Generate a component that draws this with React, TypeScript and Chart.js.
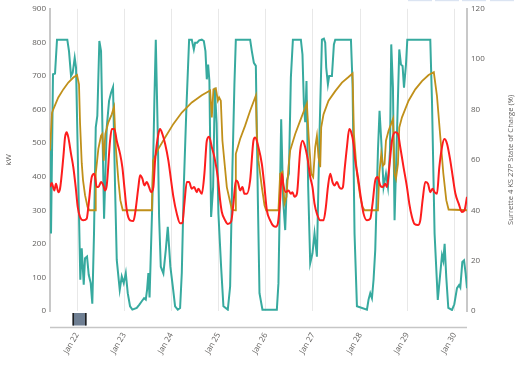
import React, { useEffect, useRef } from "react";
import { Chart, registerables } from "chart.js";

Chart.register(...registerables);

// ---- axis ticks ----
const dayTicks = [22, 23, 24, 25, 26, 27, 28, 29, 30];
const dayLabels = ["Jan 22", "Jan 23", "Jan 24", "Jan 25", "Jan 26", "Jan 27", "Jan 28", "Jan 29", "Jan 30"];
const xMin = 21.4275;
const xMax = 30.263;

// ---- teal series (kW), x = day of January ----
const tealDays = [
  21.428, 21.449, 21.491, 21.534, 21.576, 21.794, 21.83, 21.873, 21.909, 21.951, 21.979,
  22.07, 22.1, 22.142, 22.17, 22.212, 22.248, 22.29, 22.324, 22.36, 22.397, 22.43, 22.473, 22.509,
  22.573, 22.63, 22.679, 22.721, 22.763, 22.806, 22.842, 22.905, 22.948, 22.99, 23.033, 23.075,
  23.124, 23.173, 23.266, 23.321, 23.372, 23.421, 23.457, 23.484, 23.512, 23.537, 23.597, 23.639,
  23.669, 23.711, 23.739, 23.775, 23.83, 23.881, 23.923, 23.978, 24.029, 24.078, 24.135, 24.184,
  24.22, 24.262, 24.318, 24.375, 24.432, 24.475, 24.502, 24.545, 24.587, 24.644, 24.687, 24.721,
  24.75, 24.778, 24.805, 24.841, 24.884, 24.92, 24.958, 24.996, 25.053, 25.102, 25.195, 25.244,
  25.293, 25.335, 25.365, 25.668, 25.704, 25.747, 25.789, 25.832, 25.866, 25.929, 26.234, 26.268,
  26.326, 26.368, 26.411, 26.447, 26.489, 26.531, 26.574, 26.743, 26.777, 26.807, 26.835, 26.862,
  26.898, 26.941, 26.989, 27.032, 27.083, 27.138, 27.189, 27.231, 27.259, 27.28, 27.316, 27.343,
  27.401, 27.443, 27.471, 27.804, 27.838, 27.88, 27.931, 28.143, 28.177, 28.213, 28.249, 28.283,
  28.319, 28.376, 28.41, 28.446, 28.495, 28.546, 28.588, 28.631, 28.658, 28.694, 28.728, 28.779,
  28.828, 28.864, 28.898, 28.928, 28.97, 28.998, 29.485, 29.521, 29.576, 29.644, 29.733, 29.761,
  29.789, 29.824, 29.867, 29.945, 29.994, 30.051, 30.094, 30.121, 30.164, 30.2, 30.234, 30.263,
];
const tealKw = [
  483, 231, 705, 707, 808, 808, 774, 700, 710, 754, 725,
  93, 187, 78, 157, 162, 108, 83, 22, 231, 547, 581, 804, 774,
  275, 547, 626, 650, 667, 369, 152, 63, 103, 83, 113, 53,
  14, 4, 9, 19, 29, 38, 34, 63, 113, 40, 330, 626,
  808, 527, 280, 132, 112, 182, 251, 132, 73, 14, 4, 9,
  113, 369, 606, 808, 808, 779, 799, 799, 806, 808, 804, 774,
  690, 734, 685, 280, 369, 665, 560, 290, 132, 14, 4, 73,
  428, 675, 808, 808, 774, 739, 730, 330, 53, 4, 4, 83,
  571, 330, 241, 389, 409, 695, 808, 808, 764, 616, 562, 685,
  369, 142, 172, 231, 162, 527, 808, 811, 799, 725, 675, 700,
  700, 794, 808, 808, 675, 231, 14, 4, 34, 53, 38, 93,
  182, 478, 596, 507, 369, 409, 369, 478, 794, 665, 270, 527,
  779, 734, 730, 665, 734, 808, 808, 626, 231, 33, 166, 150,
  200, 100, 9, 3, 20, 68, 77, 70, 146, 151, 112, 68,
];

// ---- red series (kW) ----
const redDays = [
  21.428, 21.464, 21.519, 21.555, 21.603, 21.64, 21.71, 21.746, 21.782, 21.816, 21.873, 21.922,
  21.972, 22.015, 22.064, 22.134, 22.206, 22.24, 22.312, 22.367, 22.418, 22.452, 22.509, 22.558,
  22.594, 22.63, 22.7, 22.736, 22.791, 22.842, 22.912, 22.961, 23.003, 23.054, 23.124, 23.194,
  23.23, 23.3, 23.336, 23.385, 23.427, 23.478, 23.527, 23.569, 23.618, 23.654, 23.724, 23.76,
  23.809, 23.866, 23.936, 23.993, 24.042, 24.114, 24.184, 24.233, 24.275, 24.326, 24.375, 24.432,
  24.481, 24.538, 24.572, 24.644, 24.699, 24.75, 24.799, 24.856, 24.911, 24.983, 25.032, 25.068,
  25.138, 25.195, 25.265, 25.314, 25.365, 25.408, 25.456, 25.505, 25.547, 25.598, 25.668, 25.738,
  25.774, 25.844, 25.916, 25.972, 26.022, 26.092, 26.162, 26.213, 26.256, 26.304, 26.34, 26.374,
  26.425, 26.48, 26.531, 26.565, 26.608, 26.659, 26.729, 26.777, 26.835, 26.892, 26.941, 26.989,
  27.032, 27.083, 27.153, 27.223, 27.273, 27.316, 27.365, 27.413, 27.456, 27.507, 27.556, 27.598,
  27.634, 27.668, 27.719, 27.768, 27.81, 27.859, 27.895, 27.952, 28.022, 28.071, 28.143, 28.213,
  28.262, 28.319, 28.368, 28.425, 28.474, 28.531, 28.567, 28.616, 28.673, 28.743, 28.8, 28.849,
  28.919, 28.991, 29.04, 29.097, 29.152, 29.224, 29.273, 29.322, 29.379, 29.436, 29.485, 29.534,
  29.576, 29.627, 29.676, 29.733, 29.782, 29.84, 29.909, 29.962, 30.018, 30.087, 30.153, 30.21,
  30.263,
];
const redKw = [
  369, 381, 359, 379, 354, 364, 458, 517, 532, 517, 468, 428,
  369, 310, 280, 270, 275, 310, 399, 409, 369, 369, 384, 374,
  359, 374, 507, 542, 542, 507, 468, 428, 369, 300, 270, 268,
  290, 369, 404, 394, 374, 384, 369, 354, 369, 448, 527, 542,
  527, 498, 448, 389, 340, 290, 261, 263, 320, 384, 384, 364,
  369, 354, 364, 349, 409, 507, 519, 488, 458, 399, 330, 295,
  270, 259, 266, 320, 389, 384, 359, 369, 349, 349, 389, 507,
  517, 488, 438, 369, 300, 270, 253, 251, 261, 330, 409, 374,
  354, 359, 349, 354, 340, 349, 478, 507, 488, 448, 399, 369,
  320, 290, 270, 270, 310, 369, 409, 384, 374, 384, 369, 364,
  369, 419, 488, 542, 532, 498, 448, 399, 330, 290, 270, 275,
  320, 389, 399, 374, 369, 379, 369, 428, 507, 532, 527, 488,
  428, 369, 320, 280, 259, 256, 270, 330, 384, 379, 354, 364,
  354, 349, 428, 488, 512, 498, 448, 399, 349, 320, 295, 300,
  340,
];

// ---- gold series: State of Charge (%) ----
const socDays = [
  21.428, 21.47, 21.497, 21.603, 21.709, 21.815, 21.922, 22.0, 22.042, 22.064, 22.1, 22.127,
  22.17, 22.223, 22.261, 22.382, 22.397, 22.452, 22.509, 22.536, 22.566, 22.6, 22.664, 22.736,
  22.785, 22.821, 22.876, 22.918, 22.969, 23.584, 23.612, 23.724, 23.866, 24.042, 24.22, 24.432,
  24.644, 24.82, 24.856, 24.89, 24.941, 24.984, 25.011, 25.047, 25.081, 25.174, 25.244, 25.28,
  25.35, 25.365, 25.456, 25.562, 25.668, 25.789, 25.81, 25.844, 25.916, 25.972, 26.008, 26.268,
  26.304, 26.353, 26.396, 26.438, 26.48, 26.516, 26.623, 26.729, 26.835, 26.871, 26.905, 26.962,
  27.004, 27.047, 27.083, 27.117, 27.153, 27.174, 27.223, 27.329, 27.471, 27.613, 27.753, 27.838,
  27.867, 27.931, 28.001, 28.05, 28.092, 28.376, 28.404, 28.446, 28.482, 28.516, 28.546, 28.601,
  28.694, 28.728, 28.758, 28.8, 28.828, 28.885, 29.025, 29.167, 29.309, 29.449, 29.56, 29.627,
  29.697, 29.761, 29.824, 29.873, 30.263,
];
const socPct = [
  63.7, 78.7, 80.1, 84.8, 88.0, 90.7, 92.7, 93.7, 90.0, 74.7, 58.7, 52.0,
  46.0, 41.3, 40.0, 40.0, 54.5, 64.4, 69.6, 70.3, 59.7, 70.3, 74.9, 78.1,
  81.1, 65.1, 51.9, 44.0, 40.0, 40.0, 59.7, 64.4, 68.9, 74.3, 78.8, 82.8,
  85.7, 87.6, 76.9, 88.0, 88.4, 83.5, 84.8, 83.5, 67.6, 49.2, 43.3, 40.3,
  40.0, 62.4, 68.3, 73.6, 79.5, 85.5, 70.3, 59.7, 49.2, 42.0, 40.0, 40.0,
  54.5, 55.2, 42.7, 45.3, 57.1, 63.7, 70.3, 75.6, 80.8, 82.4, 70.3, 54.5,
  53.2, 65.1, 69.6, 61.1, 57.1, 72.9, 78.1, 83.5, 87.3, 90.7, 92.9, 94.3,
  70.3, 54.5, 45.3, 41.3, 40.0, 40.0, 54.5, 62.4, 57.7, 58.4, 67.6, 71.6,
  76.3, 54.5, 52.5, 58.4, 72.9, 76.9, 83.5, 88.0, 91.3, 93.7, 94.8, 85.3,
  69.3, 54.7, 44.0, 40.3, 40.0,
];

const FONT = "'Open Sans', 'Noto Sans', sans-serif";
const TEXT = "#605e5c";

const zip = (xs: number[], ys: number[]) => xs.map((x, i) => ({ x, y: ys[i] }));

const decorPlugin = {
  id: "decor",
  afterDraw(chart: any) {
    const { ctx, chartArea } = chart;
    const { left, right, top, bottom } = chartArea;
    const xs = chart.scales.x;
    ctx.save();
    // detached x-axis baseline
    ctx.strokeStyle = "#c6c6c6";
    ctx.lineWidth = 1.5;
    ctx.beginPath();
    ctx.moveTo(left, bottom + 16.5);
    ctx.lineTo(right, bottom + 16.5);
    ctx.stroke();
    // range thumb
    const p = xs.getPixelForValue(dayTicks[0]);
    ctx.fillStyle = "#6f7f93";
    ctx.fillRect(p - 4.5, bottom + 2, 14, 12.5);
    ctx.fillStyle = "#1f1f1f";
    ctx.fillRect(p - 4.5, bottom + 2, 1.5, 12.5);
    ctx.fillRect(p + 8, bottom + 2, 1.5, 12.5);
    // header icons (cut off at top)
    ctx.fillStyle = "#dbe4f2";
    [408, 435, 462, 490].forEach((x) => ctx.fillRect(x, 0, 24, 1.2));
    // axis titles
    ctx.fillStyle = TEXT;
    ctx.font = `8px ${FONT}`;
    ctx.textAlign = "center";
    ctx.textBaseline = "middle";
    const cy = (top + bottom) / 2;
    ctx.save();
    ctx.translate(8.5, cy);
    ctx.rotate(-Math.PI / 2);
    ctx.fillText("kW", 0, 0);
    ctx.restore();
    ctx.save();
    ctx.translate(511, cy);
    ctx.rotate(-Math.PI / 2);
    ctx.font = `7.6px ${FONT}`;
    ctx.fillText("Surrette 4 KS 27P State of Charge (%)", 0, 0);
    ctx.restore();
    ctx.restore();
  },
};

export default function App() {
  const ref = useRef<HTMLCanvasElement | null>(null);

  useEffect(() => {
    document.body.style.margin = "0";
    if (!ref.current) return;
    const chart = new Chart(ref.current, {
      type: "line",
      data: {
        datasets: [
          {
            label: "Load kW",
            data: zip(redDays, redKw),
            borderColor: "#fd1d1d",
            borderWidth: 2,
            pointRadius: 0,
            cubicInterpolationMode: "monotone",
            yAxisID: "y",
            order: 0,
          },
          {
            label: "State of Charge (%)",
            data: zip(socDays, socPct),
            borderColor: "#c0901a",
            borderWidth: 1.8,
            pointRadius: 0,
            tension: 0,
            yAxisID: "y1",
            order: 1,
          },
          {
            label: "Inverter kW",
            data: zip(tealDays, tealKw),
            borderColor: "#37aa9f",
            borderWidth: 2,
            pointRadius: 0,
            tension: 0,
            yAxisID: "y",
            order: 2,
          },
        ],
      },
      options: {
        animation: false,
        responsive: true,
        maintainAspectRatio: false,
        layout: { padding: { top: 7, left: 0, right: 0, bottom: 0 } },
        plugins: { legend: { display: false }, tooltip: { enabled: false } },
        scales: {
          x: {
            type: "linear",
            min: xMin,
            max: xMax,
            afterBuildTicks: (s: any) => {
              s.ticks = dayTicks.map((v) => ({ value: v }));
            },
            afterFit: (s: any) => {
              s.height = 55;
            },
            ticks: {
              autoSkip: false,
              minRotation: 60,
              maxRotation: 60,
              padding: 20,
              color: TEXT,
              font: { family: FONT, size: 8 },
              callback: (v: any) => {
                const i = dayTicks.indexOf(Number(v));
                return i >= 0 ? dayLabels[i] : "";
              },
            },
            grid: { display: true, color: "#e8e8e8", lineWidth: 1, drawTicks: false },
            border: { display: false },
          },
          y: {
            position: "left",
            min: 0,
            max: 900,
            afterFit: (s: any) => {
              s.width = 50;
            },
            ticks: { stepSize: 100, padding: 4, color: TEXT, font: { family: FONT, size: 8 } },
            grid: { display: false, drawTicks: false },
            border: { display: true, color: "#c8c8c8", width: 2 },
          },
          y1: {
            position: "right",
            min: 0,
            max: 120,
            afterFit: (s: any) => {
              s.width = 50;
            },
            ticks: { stepSize: 20, padding: 4, color: TEXT, font: { family: FONT, size: 8 } },
            grid: { display: false, drawTicks: false },
            border: { display: true, color: "#c8c8c8", width: 2 },
          },
        },
      },
      plugins: [decorPlugin],
    });
    return () => chart.destroy();
  }, []);

  return (
    <div style={{ position: "relative", width: 517, height: 366 }}>
      <canvas ref={ref} />
    </div>
  );
}
